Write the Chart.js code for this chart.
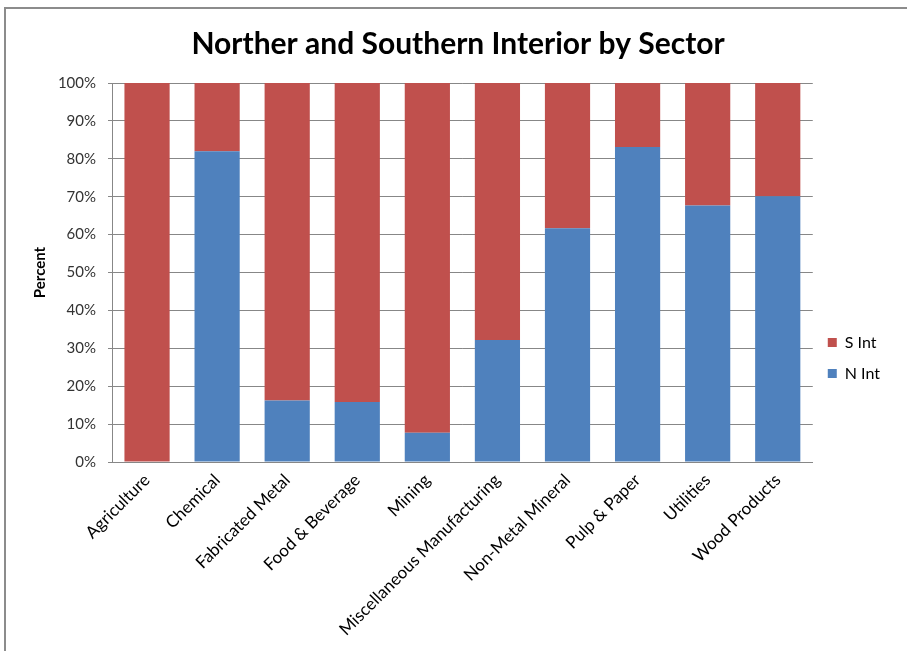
<!DOCTYPE html>
<html>
<head>
<meta charset="utf-8">
<title>Norther and Southern Interior by Sector</title>
<script src="https://cdn.jsdelivr.net/npm/chart.js@4.4.1/dist/chart.umd.min.js"></script>
<style>
  html, body { margin: 0; padding: 0; background: #ffffff; }
  #wrap { position: relative; width: 907px; height: 651px; overflow: hidden; }
  #frame { position: absolute; left: 4px; top: 7px; width: 920px; height: 700px;
           border-top: 2px solid #8c8c8c; border-left: 2px solid #8c8c8c; box-sizing: border-box; }
  canvas { position: absolute; left: 0; top: 0; }
</style>
</head>
<body>
<div id="wrap">
  <div id="frame"></div>
  <canvas id="chart" width="907" height="651"></canvas>
</div>
<script>
// Sectors along the x axis
const sectors = [
  'Agriculture', 'Chemical', 'Fabricated Metal', 'Food & Beverage', 'Mining',
  'Miscellaneous Manufacturing', 'Non-Metal Mineral', 'Pulp & Paper', 'Utilities', 'Wood Products'
];
// Share of each sector (percent) in the Northern Interior
const nInt = [0, 82, 16.2, 15.8, 7.7, 32.2, 61.7, 83.1, 67.7, 70.1];
// Share of each sector (percent) in the Southern Interior
const sInt = [100, 18, 83.8, 84.2, 92.3, 67.8, 38.3, 16.9, 32.3, 29.9];
// Percent axis ticks
const yTicks = [0, 10, 20, 30, 40, 50, 60, 70, 80, 90, 100];

const FONT = 'Lato, "Open Sans", sans-serif';
const GRID = '#878787';

// Keeps the legend entries at the height used in the report layout
const legendShift = {
  id: 'legendShift',
  afterLayout(chart) {
    const lg = chart.legend;
    if (!lg) return;
    const mid = 358;
    const h = lg.bottom - lg.top;
    lg.top = mid - h / 2;
    lg.bottom = mid + h / 2;
  }
};

new Chart(document.getElementById('chart'), {
  type: 'bar',
  data: {
    labels: sectors,
    datasets: [
      { label: 'N Int', data: nInt, backgroundColor: '#4F81BD', borderWidth: 0,
        barPercentage: 0.645, categoryPercentage: 1 },
      { label: 'S Int', data: sInt, backgroundColor: '#C0504D', borderWidth: 0,
        barPercentage: 0.645, categoryPercentage: 1 }
    ]
  },
  options: {
    responsive: false,
    animation: false,
    layout: { padding: { left: 26, right: 17, top: 0, bottom: 0 } },
    plugins: {
      title: {
        display: true,
        text: 'Norther and Southern Interior by Sector',
        color: '#000000',
        font: { family: FONT, size: 30, weight: 'bold' },
        padding: { top: 26, bottom: 21 }
      },
      legend: {
        position: 'right',
        reverse: true,
        labels: {
          color: '#000000',
          font: { family: FONT, size: 16 },
          boxWidth: 9,
          boxHeight: 9,
          padding: 15
        }
      },
      tooltip: { enabled: false }
    },
    scales: {
      x: {
        stacked: true,
        grid: { display: false, drawTicks: false },
        border: { display: true, color: GRID, width: 1 },
        ticks: {
          color: '#000000',
          font: { family: FONT, size: 17 },
          autoSkip: false,
          minRotation: 45,
          maxRotation: 45,
          padding: 8
        },
        afterFit(scale) { scale.height = 189; }
      },
      y: {
        stacked: true,
        min: 0,
        max: 100,
        afterBuildTicks(scale) { scale.ticks = yTicks.map(v => ({ value: v })); },
        grid: { color: GRID, lineWidth: 1, tickLength: 4, drawTicks: true },
        border: { display: true, color: GRID, width: 1 },
        ticks: {
          color: '#333333',
          font: { family: FONT, size: 15 },
          padding: 12,
          callback: v => v + '%'
        },
        title: {
          display: true,
          text: 'Percent',
          color: '#000000',
          font: { family: FONT, size: 15, weight: 'bold' },
          padding: { top: 5, bottom: 0 }
        },
        afterFit(scale) { scale.width = 86; }
      }
    }
  },
  plugins: [legendShift]
});
</script>
</body>
</html>
